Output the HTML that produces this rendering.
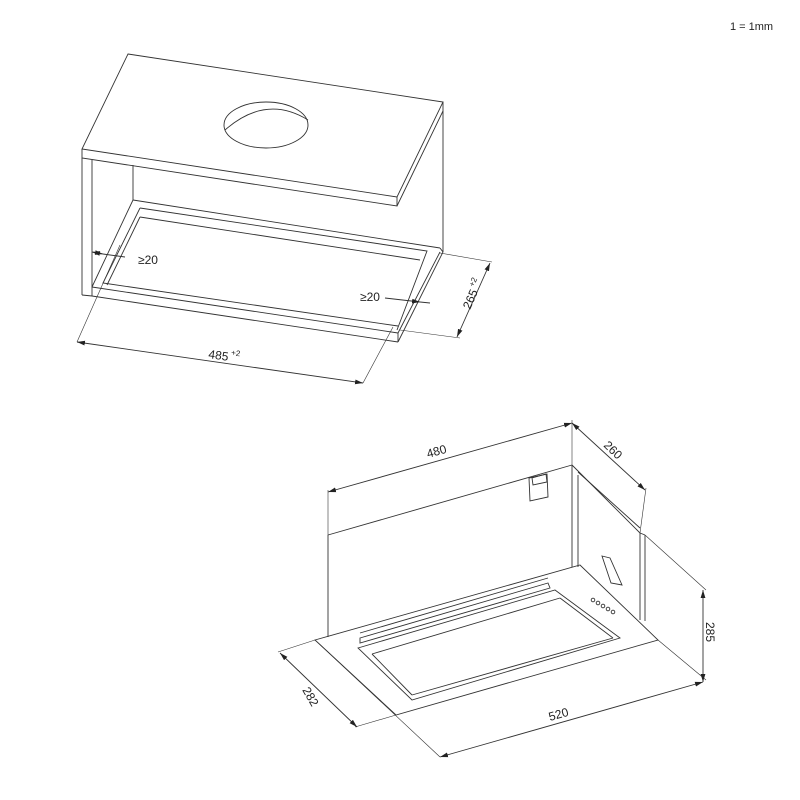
<!DOCTYPE html>
<html><head><meta charset="utf-8"><style>
html,body{margin:0;padding:0;background:#fff;}
svg{display:block;}
text{font-family:"Liberation Sans",sans-serif;fill:#222;}
</style></head><body>
<svg width="800" height="800" viewBox="0 0 800 800" xmlns="http://www.w3.org/2000/svg">
<defs>
<marker id="a" viewBox="0 0 10 10" refX="10" refY="5" markerWidth="8" markerHeight="8" orient="auto-start-reverse" markerUnits="userSpaceOnUse"><path d="M0,2 L10,5 L0,8 z" fill="#222"/></marker>
</defs>
<text x="730" y="30" font-size="11">1 = 1mm</text>
<g fill="none" stroke="#333" stroke-width="0.9">
<polygon points="128,54 443,102 397,197 82,149"/>
<polyline points="82,149 82,158 397,206 397,197"/>
<polyline points="443,102 443,111 397,206"/>
<ellipse cx="266" cy="125" rx="42" ry="23"/>
<path d="M225,130 Q266,94 308,120"/>
<line x1="82" y1="158" x2="82" y2="295"/>
<line x1="92" y1="160" x2="92" y2="296"/>
<line x1="82" y1="295" x2="92" y2="296"/>
<line x1="133" y1="165" x2="133" y2="200"/>
<line x1="443" y1="111" x2="443" y2="252"/>
<line x1="133" y1="200" x2="440" y2="248"/>
<line x1="133" y1="200" x2="92" y2="287"/>
<line x1="92" y1="287" x2="398" y2="333"/>
<line x1="92" y1="296" x2="398" y2="342"/>
<line x1="398" y1="333" x2="398" y2="342"/>
<line x1="398" y1="333" x2="440" y2="252"/>
<line x1="398" y1="342" x2="443" y2="252"/>
<line x1="440" y1="248" x2="443" y2="252"/>
<polyline points="140,208 427,251 397,330"/>
<line x1="140" y1="217" x2="420" y2="260"/>
<polyline points="140,208 103,283 398,326"/>
<line x1="140" y1="217" x2="107" y2="285"/>
<line x1="77" y1="342" x2="120" y2="245" stroke-width="0.6"/>
<line x1="363" y1="383" x2="393" y2="327" stroke-width="0.6"/>
<line x1="77" y1="342" x2="363" y2="383" marker-start="url(#a)" marker-end="url(#a)"/>
<line x1="440" y1="253" x2="492" y2="262" stroke-width="0.6"/>
<line x1="400" y1="330" x2="460" y2="338" stroke-width="0.6"/>
<line x1="490" y1="263" x2="457" y2="337" marker-start="url(#a)" marker-end="url(#a)"/>
<line x1="92" y1="252" x2="103" y2="254" marker-end="url(#a)" marker-start="url(#a)"/>
<line x1="103" y1="254" x2="125" y2="257"/>
<line x1="385" y1="298" x2="420" y2="302" marker-end="url(#a)"/>
<line x1="420" y1="302" x2="430" y2="303" />
<line x1="328" y1="535" x2="572" y2="465"/>
<line x1="328" y1="535" x2="328" y2="637"/>
<line x1="572" y1="465" x2="572" y2="567"/>
<line x1="578" y1="475" x2="578" y2="567"/>
<line x1="572" y1="465" x2="640" y2="533"/>
<line x1="578" y1="472" x2="640" y2="528"/>
<line x1="640" y1="533" x2="640" y2="620"/>
<line x1="645" y1="535" x2="645" y2="621"/>
<line x1="640" y1="533" x2="645" y2="535"/>
<polygon points="529,478 547,474 548,497 530,501"/>
<polygon points="532,478 546,474 547,482 533,485"/>
<polygon points="602,556 610,558 622,585 611,583"/>
<polygon points="315,640 580,565 658,640 396,715"/>
<polygon points="358,648 555,590 620,638 412,700"/>
<line x1="372" y1="654" x2="560" y2="598"/>
<line x1="372" y1="654" x2="412" y2="695"/>
<line x1="412" y1="695" x2="613" y2="638"/>
<line x1="560" y1="598" x2="613" y2="638"/>
<polygon points="360,638 548,583 550,588 360,643"/>
<line x1="360" y1="633" x2="548" y2="578"/>
<circle cx="593" cy="600" r="1.8"/><circle cx="598" cy="603" r="1.8"/><circle cx="603" cy="606" r="1.8"/><circle cx="608" cy="609" r="1.8"/><circle cx="613" cy="612" r="1.8"/>
<line x1="328" y1="535" x2="328" y2="490" stroke-width="0.6"/>
<line x1="572" y1="465" x2="572" y2="420" stroke-width="0.6"/>
<line x1="328" y1="492" x2="572" y2="423" marker-start="url(#a)" marker-end="url(#a)"/>
<line x1="640" y1="533" x2="646" y2="488" stroke-width="0.6"/>
<line x1="572" y1="423" x2="645" y2="490" marker-start="url(#a)" marker-end="url(#a)"/>
<line x1="645" y1="535" x2="706" y2="590" stroke-width="0.6"/>
<line x1="658" y1="640" x2="706" y2="680" stroke-width="0.6"/>
<line x1="703" y1="590" x2="703" y2="682" marker-start="url(#a)" marker-end="url(#a)"/>
<line x1="315" y1="640" x2="440" y2="757" stroke-width="0.6"/>
<line x1="440" y1="757" x2="703" y2="682" marker-start="url(#a)" marker-end="url(#a)"/>
<line x1="315" y1="640" x2="278" y2="652" stroke-width="0.6"/>
<line x1="396" y1="715" x2="355" y2="727" stroke-width="0.6"/>
<line x1="280" y1="653" x2="357" y2="727" marker-start="url(#a)" marker-end="url(#a)"/>
</g>
<text x="138" y="264" font-size="12">≥20</text>
<text x="360" y="301" font-size="12">≥20</text>
<text x="208" y="358" font-size="12" transform="rotate(8 208 358)">485<tspan font-size="8" dy="-6"> +2</tspan></text>
<text x="470" y="310" font-size="12" transform="rotate(-66 470 310)">265<tspan font-size="8" dy="-6"> +2</tspan></text>
<text x="428" y="458" font-size="12" transform="rotate(-16 428 458)">480</text>
<text x="603" y="446" font-size="12" transform="rotate(44 603 446)">260</text>
<text x="706" y="622" font-size="12" transform="rotate(90 706 622)">285</text>
<text x="302" y="690" font-size="12" transform="rotate(60 302 690)">282</text>
<text x="550" y="721" font-size="12" transform="rotate(-16 550 721)">520</text>
</svg>
</body></html>
